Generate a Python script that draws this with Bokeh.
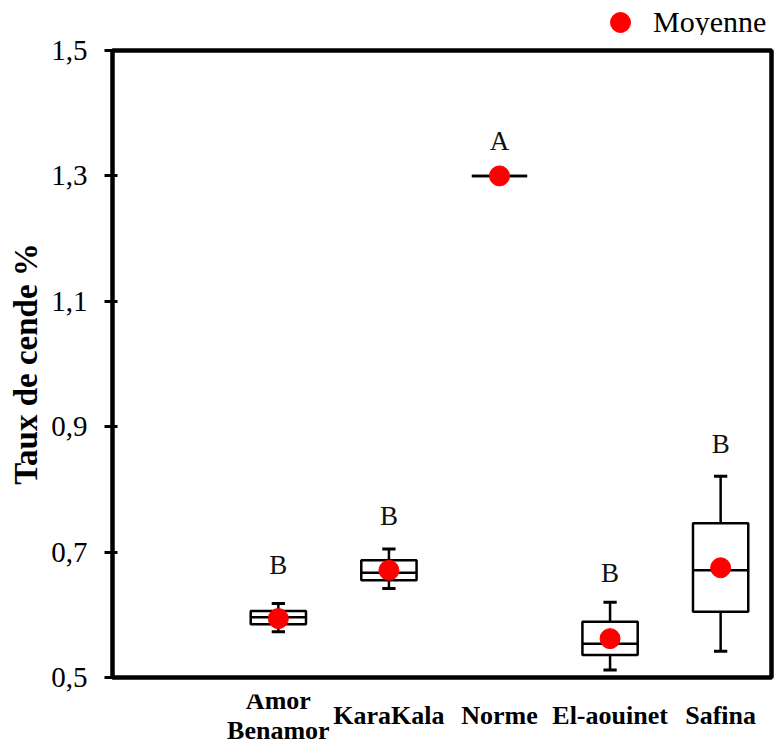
import numpy as np
from bokeh.plotting import figure
from bokeh.layouts import column
from bokeh.models import Range1d, FixedTicker, Legend, LegendItem, ColumnDataSource
from bokeh.core.properties import value
from bokeh.embed import file_html
from bokeh.resources import INLINE

# Ash content (%) per sample
categories = ["Amor\nBenamor", "KaraKala", "Norme", "El-aouinet", "Safina"]
whisker_low = [0.573, 0.642, 1.300, 0.512, 0.542]
q1 = [0.585, 0.655, 1.300, 0.536, 0.605]
median = [0.596, 0.667, 1.300, 0.554, 0.671]
q3 = [0.606, 0.687, 1.300, 0.589, 0.746]
whisker_high = [0.618, 0.705, 1.300, 0.620, 0.821]
mean = [0.594, 0.671, 1.300, 0.562, 0.675]
groups = ["B", "B", "A", "B", "B"]
group_label_y = [0.679, 0.758, 1.355, 0.667, 0.873]
y_ticks = [0.5, 0.7, 0.9, 1.1, 1.3, 1.5]
y_tick_labels = ["0,5", "0,7", "0,9", "1,1", "1,3", "1,5"]

SERIF = "Liberation Serif"
MEAN_COLOR = "#ff0000"
x = np.arange(1, len(categories) + 1, dtype=float)
half_box = 0.25
half_cap = 0.06

BORDER_L, BORDER_R = 112, 3


def bare(fig):
    fig.xaxis.visible = False
    fig.yaxis.visible = False
    fig.xgrid.visible = False
    fig.ygrid.visible = False
    fig.outline_line_color = None
    fig.background_fill_color = "white"
    fig.border_fill_color = "white"


src = ColumnDataSource(dict(
    x=x, left=x - half_box, right=x + half_box,
    cap_l=x - half_cap, cap_r=x + half_cap,
    lo=whisker_low, q1=q1, med=median, q3=q3, hi=whisker_high,
    mean=mean, grp=groups, grp_y=group_label_y,
))

# ---- legend strip on top (frame aligned with the main plot) ----
top_h = 35
top = figure(width=774, height=top_h, output_backend="svg", toolbar_location=None,
             x_range=Range1d(100, 101), y_range=Range1d(100, 101),
             min_border_left=BORDER_L, min_border_right=BORDER_R,
             min_border_top=0, min_border_bottom=0)
bare(top)
# same mean markers, kept outside this strip's view: only their legend key shows
key = top.scatter(x="x", y="mean", source=src, size=20, marker="circle",
                  fill_color=MEAN_COLOR, line_color=MEAN_COLOR)
legend = Legend(items=[LegendItem(label="Moyenne", renderers=[key])],
                location=(483, top_h - 47), glyph_width=50, glyph_height=50,
                label_standoff=8, padding=0, margin=0, spacing=0,
                border_line_color=None, background_fill_alpha=0,
                label_text_font=SERIF, label_text_font_size="30px",
                label_text_color="black")
top.add_layout(legend)

# ---- main box plot ----
p = figure(width=774, height=659, output_backend="svg", toolbar_location=None,
           x_range=Range1d(-0.5, 5.46), y_range=Range1d(0.5, 1.5),
           min_border_left=BORDER_L, min_border_right=BORDER_R, min_border_top=15,
           min_border_bottom=17)
p.xgrid.visible = False
p.ygrid.visible = False
p.xaxis.visible = False
p.background_fill_color = "white"
p.border_fill_color = "white"
p.outline_line_color = "black"
p.outline_line_width = 4.5

# whiskers and caps
p.segment(x0="x", y0="q3", x1="x", y1="hi", source=src, line_color="black", line_width=2.5)
p.segment(x0="x", y0="lo", x1="x", y1="q1", source=src, line_color="black", line_width=2.5)
p.segment(x0="cap_l", y0="hi", x1="cap_r", y1="hi", source=src, line_color="black", line_width=3)
p.segment(x0="cap_l", y0="lo", x1="cap_r", y1="lo", source=src, line_color="black", line_width=3)

# boxes and medians
p.quad(left="left", right="right", bottom="q1", top="q3", source=src,
       fill_color="white", line_color="black", line_width=2.5)
p.segment(x0="left", y0="med", x1="right", y1="med", source=src, line_color="black", line_width=2.5)

# means
p.scatter(x="x", y="mean", source=src, size=20, marker="circle",
          fill_color=MEAN_COLOR, line_color=MEAN_COLOR)

# significance groups
p.text(x="x", y="grp_y", text="grp", source=src, text_align="center",
       text_baseline="middle", text_font=value(SERIF), text_font_size="27px",
       text_color="#111111")

# y axis
yax = p.yaxis[0]
yax.ticker = FixedTicker(ticks=y_ticks)
yax.major_label_overrides = {t: l for t, l in zip(y_ticks, y_tick_labels)}
yax.minor_tick_line_color = None
yax.major_tick_out = 8
yax.major_tick_in = 5
yax.major_tick_line_width = 3
yax.axis_line_color = None
yax.major_label_standoff = 17
yax.major_label_text_font = SERIF
yax.major_label_text_font_size = "29px"
yax.major_label_text_color = "black"
yax.axis_label = "Taux de cende %"
yax.axis_label_text_font = SERIF
yax.axis_label_text_font_style = "bold"
yax.axis_label_text_font_size = "33px"
yax.axis_label_text_color = "black"
yax.axis_label_standoff = 4

# ---- category names under the frame, sharing the x scale ----
strip_h = 51
names = figure(width=774, height=strip_h, output_backend="svg", toolbar_location=None,
               x_range=p.x_range, y_range=Range1d(0, strip_h),
               min_border_left=BORDER_L, min_border_right=BORDER_R,
               min_border_top=0, min_border_bottom=0)
bare(names)
names.text(x=x, y=[strip_h - 21] * len(x), text=categories, text_align="center",
           text_baseline="middle", text_line_height=1.02,
           text_font=value(SERIF), text_font_style="bold",
           text_font_size="26px", text_color="black")

layout = column(top, p, names, spacing=0)
open("out.html", "w").write(file_html(layout, INLINE))
